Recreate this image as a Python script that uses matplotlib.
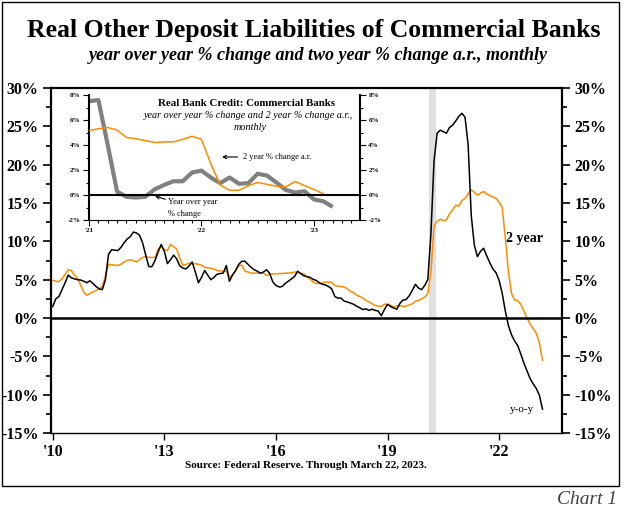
import numpy as np
import matplotlib
matplotlib.use('Agg')
import matplotlib.pyplot as plt
from matplotlib.patches import Rectangle
from matplotlib.ticker import MultipleLocator, FixedLocator

plt.rcParams['font.family'] = ['Liberation Serif', 'DejaVu Serif']

# Real other deposit liabilities, monthly Jan 2010 - Mar 2023 (% change)
start_year = 2010
yoy = [
    1.5, 2.5, 2.8, 3.7, 4.6, 5.6, 5.25, 5.1, 5.0, 4.95, 4.8, 4.6,      # 2010
    4.85, 4.5, 4.1, 3.8, 3.7, 5.0, 8.3, 8.9, 8.85, 8.8, 9.2, 9.8,      # 2011
    10.3, 10.6, 11.2, 11.1, 10.8, 9.8, 8.2, 6.7, 6.7, 7.5, 8.6, 9.6,   # 2012
    8.7, 7.1, 7.6, 8.2, 7.7, 6.8, 6.5, 6.4, 6.8, 7.3, 6.0, 4.6,        # 2013
    5.3, 6.2, 5.6, 5.0, 5.3, 5.7, 5.8, 5.85, 6.85, 4.8, 5.6, 6.2,      # 2014
    7.0, 7.4, 7.4, 7.0, 6.6, 6.3, 6.1, 5.85, 6.0, 6.3, 5.8, 4.7,       # 2015
    4.25, 4.05, 4.1, 4.5, 4.8, 5.1, 5.4, 6.1, 5.8, 5.5, 5.4, 5.3,      # 2016
    5.05, 4.9, 4.6, 4.4, 4.3, 4.1, 3.8, 2.8, 2.6, 2.6, 2.2, 2.1,       # 2017
    1.95, 1.8, 1.55, 1.35, 1.1, 1.2, 1.0, 1.15, 1.0, 0.9, 0.3, 1.1,    # 2018
    1.8, 1.5, 1.3, 1.15, 1.9, 2.35, 2.4, 2.9, 3.6, 4.4, 3.9, 3.7,      # 2019
    4.25, 5.0, 11.0, 20.5, 24.1, 24.5, 24.3, 24.1, 24.85, 25.15, 25.7, 26.3,  # 2020
    26.7, 26.2, 22.6, 13.4, 9.5, 8.0, 8.7, 9.1, 8.1, 7.2, 6.4, 5.9,    # 2021
    4.9, 3.2, 0.9, -1.0, -2.2, -3.0, -3.6, -4.7, -5.9, -6.9, -7.9, -8.6,  # 2022
    -9.2, -10.1, -11.9,                                                # 2023
]
two_year = [
    4.9, 4.8, 4.75, 5.1, 5.7, 6.3, 6.2, 5.6, 5.2, 4.3, 3.4, 2.95,      # 2010
    3.2, 3.4, 3.6, 3.8, 4.1, 5.5, 7.0, 6.95, 6.9, 6.85, 7.0, 7.3,      # 2011
    7.5, 7.6, 7.5, 7.3, 7.6, 7.9, 8.0, 7.9, 7.9, 7.9, 9.0, 9.3,        # 2012
    8.9, 8.8, 9.6, 9.3, 9.0, 7.8, 6.85, 7.0, 7.15, 7.1, 7.07, 7.0,     # 2013
    6.9, 6.6, 6.55, 6.5, 6.4, 6.2, 6.15, 6.1, 6.1, 5.35, 5.6, 6.2,     # 2014
    6.8, 6.9, 6.1, 6.0, 5.85, 5.85, 5.85, 5.85, 5.85, 5.55, 5.7, 5.75, # 2015
    5.75, 5.8, 5.8, 5.85, 5.85, 5.9, 6.0, 5.95, 5.85, 5.75, 5.4, 5.1,  # 2016
    4.7, 4.5, 4.5, 4.55, 4.7, 4.7, 4.6, 4.25, 4.15, 4.1, 4.05, 3.8,    # 2017
    3.5, 3.3, 3.0, 2.8, 2.6, 2.3, 2.1, 1.85, 1.65, 1.55, 1.5, 1.8,     # 2018
    1.75, 1.65, 1.4, 1.6, 1.6, 1.5, 1.55, 1.7, 1.85, 2.2, 2.3, 2.5,    # 2019
    2.7, 3.2, 6.0, 12.0, 12.6, 12.9, 12.7, 12.8, 13.6, 14.1, 14.7, 14.6,  # 2020
    15.3, 15.6, 16.2, 16.7, 16.4, 16.0, 16.3, 16.5, 16.2, 15.95, 15.8, 15.6,  # 2021
    15.1, 14.4, 10.4, 6.0, 3.2, 2.35, 2.25, 1.8, 0.9, 0.0, -0.8, -1.4,  # 2022
    -2.0, -3.3, -5.5,                                                  # 2023
]

# Inset: real bank credit, monthly from Jan 2021
inset_start = 2021
credit_yoy = [
    7.5, 7.6, 4.0, 0.27, -0.15, -0.2, -0.15, 0.45, 0.8, 1.1, 1.1, 1.8,
    1.95, 1.4, 0.95, 1.4, 0.9, 0.95, 1.7, 1.55, 1.0, 0.4, 0.2, 0.3,
    -0.35, -0.5, -0.95,
]
credit_2yr = [
    5.15, 5.3, 5.4, 5.2, 4.6, 4.5, 4.35, 4.2, 4.25, 4.25, 4.45, 4.7,
    4.45, 2.5, 0.8, 0.38, 0.38, 0.75, 1.0, 0.85, 0.7, 0.65, 1.08, 0.75,
    0.45, 0.1,
]

recession = (2020.12, 2020.30)
year_ticks = [2010, 2013, 2016, 2019, 2022]

W, H = 627, 517
def fx(px):
    return px / W
def fy(py):
    return 1 - py / H

fig = plt.figure(figsize=(W / 100, H / 100), dpi=100)

# outer frame
fig.patches.append(Rectangle((fx(2), fy(486)), fx(619) - fx(2), fy(2) - fy(486),
                             transform=fig.transFigure, fill=False, ec='black', lw=1.0))

t = start_year + np.arange(len(yoy)) / 12

ax = fig.add_axes([fx(51), fy(433), fx(562) - fx(51), fy(88) - fy(433)])
ax.set_xlim(2009.954, 2023.69)
ax.set_ylim(-15, 30)
ax.axvspan(recession[0], recession[1], color='#e0e0e0', lw=0, zorder=0)
ax.plot(t, two_year, color='#ff8c00', lw=1.1, zorder=2)
ax.plot(t, yoy, color='black', lw=1.1, zorder=3)
ax.axhline(0, color='black', lw=1.8, zorder=4)

ax.yaxis.set_major_locator(MultipleLocator(5))
ax.yaxis.set_minor_locator(MultipleLocator(2.5))
ax.set_yticklabels([])
ax.set_yticks(np.arange(-15, 31, 5))
ax.set_yticklabels([f'{v}%' for v in range(-15, 31, 5)])
ax.set_xticks(year_ticks)
ax.set_xticklabels([f"'{y % 100:02d}" for y in year_ticks])
ax.tick_params(axis='y', which='both', left=True, right=True, labelright=True,
               direction='out', width=1.2)
ax.tick_params(axis='y', which='major', length=6, pad=3, labelsize=11.5)
ax.tick_params(axis='y', which='minor', length=3.5)
ax.tick_params(axis='x', which='major', direction='out', length=5, width=1.0,
               pad=3, labelsize=11.5)
for lab in ax.get_xticklabels() + ax.get_yticklabels():
    lab.set_fontweight('bold')
for s in ['left', 'right', 'top']:
    ax.spines[s].set_linewidth(1.6)
ax.spines['bottom'].set_linewidth(1.0)

ax.text(510, 10.2, '2 year', fontsize=10, fontweight='bold',
        transform=ax.transData, ha='left', va='center')
ax.annotate('y-o-y', xy=(fx(522), fy(410)), xycoords='figure fraction',
            fontsize=8, ha='center', va='center')
ax.texts[0].remove()
ax.annotate('2 year', xy=(fx(525), fy(238)), xycoords='figure fraction',
            fontsize=10, fontweight='bold', ha='center', va='center')

# inset
ti = inset_start + np.arange(len(credit_yoy)) / 12
ti2 = inset_start + np.arange(len(credit_2yr)) / 12
ax2 = fig.add_axes([fx(89), fy(220), fx(360) - fx(89), fy(95) - fy(220)])
ax2.set_facecolor('white')
ax2.set_xlim(2021.0, 2023.41)
ax2.set_ylim(-2, 8)
ax2.plot(ti2, credit_2yr, color='#ff8c00', lw=1.1, zorder=3)
ax2.plot(ti, credit_yoy, color='#808080', lw=3, zorder=2, solid_capstyle='butt')
ax2.axhline(0, color='black', lw=1.5, zorder=4)
ax2.spines['top'].set_visible(False)
ax2.spines['left'].set_linewidth(1.5)
ax2.spines['right'].set_linewidth(1.5)
ax2.spines['bottom'].set_linewidth(0.8)
ax2.set_yticks(range(-2, 9, 2))
ax2.set_yticklabels([f'{v}%' for v in range(-2, 9, 2)])
ax2.yaxis.set_minor_locator(MultipleLocator(1))
ax2.set_xticks([2021, 2022, 2023])
ax2.set_xticklabels(["'21", "'22", "'23"])
ax2.xaxis.set_minor_locator(FixedLocator(inset_start + np.arange(0, 29) / 12))
ax2.tick_params(axis='y', which='both', left=True, right=True, labelright=True,
                direction='out', width=0.8, labelsize=5, pad=2)
ax2.tick_params(axis='y', which='major', length=4)
ax2.tick_params(axis='y', which='minor', length=2.5)
ax2.tick_params(axis='x', which='both', direction='out', width=0.8, labelsize=5, pad=2)
ax2.tick_params(axis='x', which='major', length=4)
ax2.tick_params(axis='x', which='minor', length=2.5)
for lab in ax2.get_xticklabels() + ax2.get_yticklabels():
    lab.set_fontweight('bold')

fig.text(fx(247), fy(103), 'Real Bank Credit: Commercial Banks', fontsize=7.8,
         fontweight='bold', ha='center', va='center')
fig.text(fx(248), fy(115), 'year over year % change and 2 year % change a.r.,',
         fontsize=7.3, style='italic', ha='center', va='center')
fig.text(fx(250), fy(127), 'monthly', fontsize=7.3, style='italic',
         ha='center', va='center')
ax2.annotate('2 year % change a.r.', xy=(fx(222), fy(157)), xycoords='figure fraction',
             xytext=(fx(243), fy(157)), textcoords='figure fraction',
             fontsize=6, ha='left', va='center',
             arrowprops=dict(arrowstyle='->', lw=0.8, color='black', shrinkA=2, shrinkB=0))
ax2.annotate('Year over year\n% change', xy=(fx(155), fy(196)), xycoords='figure fraction',
             xytext=(fx(168), fy(208)), textcoords='figure fraction',
             fontsize=6, ha='left', va='center', linespacing=1.5,
             arrowprops=dict(arrowstyle='->', lw=0.8, color='black', shrinkA=10, shrinkB=0))

# titles
fig.text(0.5, fy(30), 'Real Other Deposit Liabilities of Commercial Banks',
         fontsize=18.5, fontweight='bold', ha='center', va='center')
fig.text(fx(318), fy(55), 'year over year % change and two year % change a.r., monthly',
         fontsize=13, fontweight='bold', style='italic', ha='center', va='center')
fig.text(fx(306), fy(466), 'Source: Federal Reserve. Through March 22, 2023.',
         fontsize=8, fontweight='bold', ha='center', va='center')
fig.text(fx(617), fy(500), 'Chart 1', fontsize=14, style='italic', color='#404040',
         ha='right', va='center')

fig.savefig('out.png', dpi=100)
